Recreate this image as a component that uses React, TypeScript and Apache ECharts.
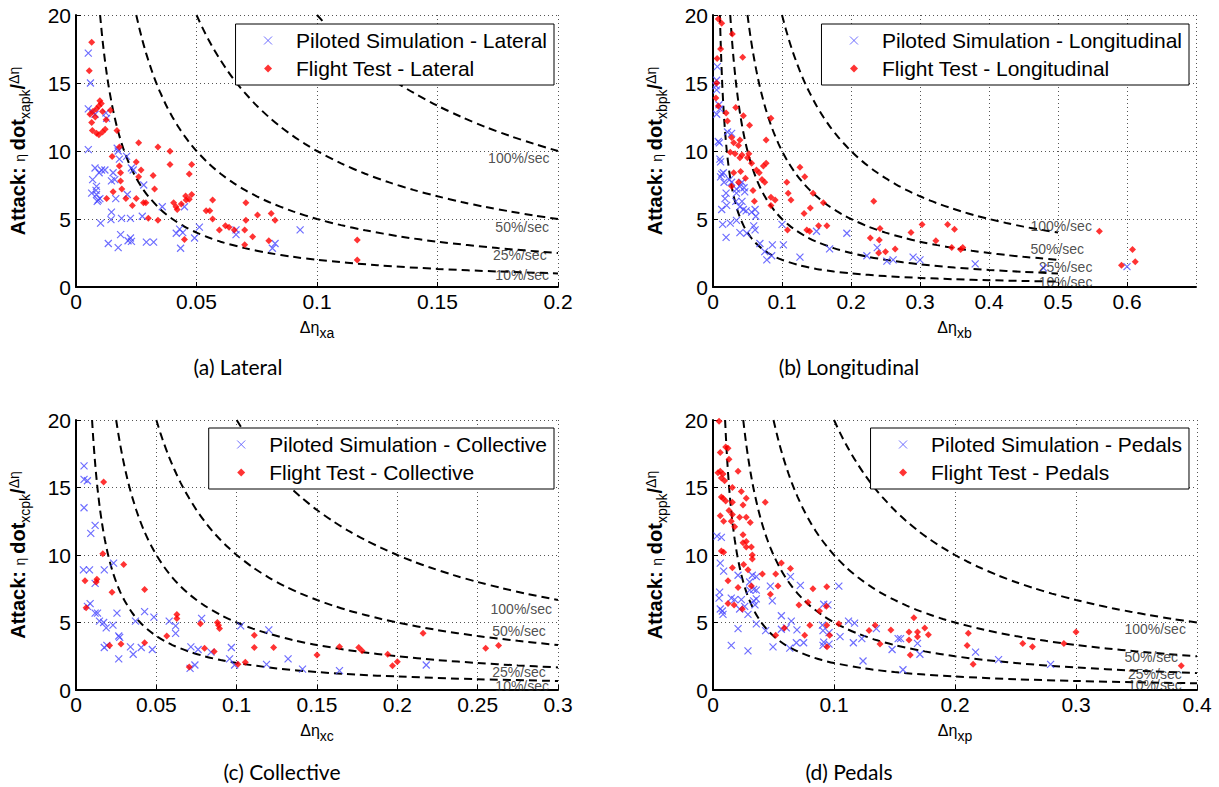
import React, { useEffect, useRef } from 'react';
import * as echarts from 'echarts';

// ---------- reference curves ----------
const curve100: number[][] = [[0.1,20],[0.105,19.05],[0.11,18.18],[0.115,17.39],[0.12,16.67],[0.125,16],[0.13,15.38],[0.135,14.81],[0.14,14.29],[0.15,13.33],[0.16,12.5],[0.17,11.76],[0.18,11.11],[0.19,10.53],[0.2,10],[0.21,9.52],[0.22,9.09],[0.235,8.51],[0.25,8],[0.265,7.55],[0.28,7.14],[0.3,6.67],[0.315,6.35],[0.33,6.06],[0.345,5.8],[0.36,5.56],[0.38,5.26],[0.4,5],[0.425,4.71],[0.45,4.44],[0.475,4.21],[0.5,4]];
const curve50: number[][] = [[0.05,20],[0.0525,19.05],[0.055,18.18],[0.0575,17.39],[0.06,16.67],[0.0625,16],[0.065,15.38],[0.0675,14.81],[0.07,14.29],[0.075,13.33],[0.08,12.5],[0.085,11.76],[0.09,11.11],[0.095,10.53],[0.1,10],[0.11,9.09],[0.12,8.33],[0.13,7.69],[0.14,7.14],[0.15,6.67],[0.16,6.25],[0.17,5.88],[0.18,5.56],[0.19,5.26],[0.2,5],[0.225,4.44],[0.25,4],[0.275,3.64],[0.3,3.33],[0.325,3.08],[0.35,2.86],[0.375,2.67],[0.4,2.5],[0.425,2.35],[0.45,2.22],[0.475,2.11],[0.5,2]];
const curve25: number[][] = [[0.025,20],[0.02625,19.05],[0.0275,18.18],[0.02875,17.39],[0.03,16.67],[0.03125,16],[0.0325,15.38],[0.03375,14.81],[0.035,14.29],[0.0375,13.33],[0.04,12.5],[0.0425,11.76],[0.045,11.11],[0.0475,10.53],[0.05,10],[0.055,9.09],[0.06,8.33],[0.065,7.69],[0.07,7.14],[0.075,6.67],[0.08,6.25],[0.09,5.56],[0.1,5],[0.11,4.55],[0.12,4.17],[0.135,3.7],[0.15,3.33],[0.175,2.86],[0.2,2.5],[0.225,2.22],[0.25,2],[0.275,1.82],[0.3,1.67],[0.35,1.43],[0.4,1.25],[0.45,1.11],[0.5,1]];
const curve10: number[][] = [[0.01,20],[0.0105,19.05],[0.011,18.18],[0.0115,17.39],[0.012,16.67],[0.0125,16],[0.013,15.38],[0.0135,14.81],[0.014,14.29],[0.015,13.33],[0.016,12.5],[0.017,11.76],[0.018,11.11],[0.019,10.53],[0.02,10],[0.0225,8.89],[0.025,8],[0.0275,7.27],[0.03,6.67],[0.035,5.71],[0.04,5],[0.045,4.44],[0.05,4],[0.055,3.64],[0.06,3.33],[0.07,2.86],[0.08,2.5],[0.09,2.22],[0.1,2],[0.125,1.6],[0.15,1.33],[0.175,1.14],[0.2,1],[0.25,0.8],[0.3,0.67],[0.35,0.57],[0.4,0.5],[0.45,0.44],[0.5,0.4]];
const rateLabels = ['100%/sec', '50%/sec', '25%/sec', '10%/sec'];

// ---------- axis ticks ----------
const yTicks = { min: 0, max: 20, interval: 5 };
const xTicksA = { min: 0, max: 0.2, interval: 0.05 };
const xTicksB = { min: 0, max: 0.7, interval: 0.1 };
const xTicksC = { min: 0, max: 0.3, interval: 0.05 };
const xTicksD = { min: 0, max: 0.4, interval: 0.1 };
const curveEnd = [0.2, 0.5, 0.3, 0.4];

// ---------- rate label positions ----------
const labelPosA = [[0.171, 9.5], [0.174, 4.4], [0.173, 2.35], [0.174, 0.85]];
const labelPosB = [[0.46, 4.5], [0.46, 2.77], [0.472, 1.45], [0.472, 0.4]];
const labelPosC = [[0.258, 6.0], [0.259, 4.4], [0.259, 1.35], [0.261, 0.33]];
const labelPosD = [[0.34, 4.55], [0.34, 2.45], [0.343, 1.15], [0.343, 0.4]];

// ---------- scatter data ----------
const latSim: number[][] = [[0.0051,17.2],[0.006,15.0],[0.0051,13.1],[0.0079,12.7],[0.0068,12.9],[0.0124,12.8],[0.0127,12.4],[0.0051,10.1],[0.0171,10.2],[0.0175,10.0],[0.018,9.4],[0.021,9.6],[0.023,8.75],[0.0237,8.6],[0.0079,8.75],[0.0069,7.9],[0.0096,8.4],[0.0106,8.6],[0.012,8.6],[0.0154,8.4],[0.0161,7.9],[0.0147,7.8],[0.0085,7.4],[0.0083,7.1],[0.0065,6.9],[0.0085,6.8],[0.0092,6.4],[0.0088,6.3],[0.0099,6.5],[0.0165,6.5],[0.0213,6.8],[0.0281,7.5],[0.0358,5.9],[0.0102,4.7],[0.0147,5.5],[0.0145,4.95],[0.0189,5.05],[0.0226,5.05],[0.0275,5.2],[0.0134,3.2],[0.0175,2.9],[0.0185,3.85],[0.0226,3.6],[0.0216,3.4],[0.023,3.35],[0.0292,3.3],[0.0322,3.3],[0.0416,3.95],[0.043,4.25],[0.0443,4.0],[0.0434,2.85],[0.045,5.9],[0.0492,3.6],[0.0512,4.4],[0.0664,4.2],[0.0664,3.85],[0.0815,2.85],[0.0826,3.2],[0.093,4.2]];
const latFlight: number[][] = [[0.0065,18.0],[0.0055,15.9],[0.0058,12.7],[0.007,12.9],[0.0085,13.1],[0.0095,13.3],[0.0105,13.5],[0.0099,13.7],[0.008,12.5],[0.0065,12.1],[0.0068,11.5],[0.0085,11.3],[0.0095,11.2],[0.011,11.4],[0.0121,11.6],[0.0143,13.0],[0.011,12.9],[0.0125,12.3],[0.017,11.5],[0.018,10.3],[0.015,9.6],[0.018,8.9],[0.0185,8.4],[0.0185,7.8],[0.0154,7.0],[0.019,7.2],[0.0207,6.5],[0.0127,6.5],[0.0234,6.0],[0.025,6.5],[0.028,6.2],[0.029,6.2],[0.03,5.05],[0.0326,7.2],[0.032,8.2],[0.026,10.6],[0.034,10.3],[0.039,9.98],[0.039,9.0],[0.048,9.0],[0.047,8.3],[0.027,8.6],[0.025,9.2],[0.026,8.1],[0.0405,6.2],[0.0415,5.9],[0.042,5.7],[0.0437,6.1],[0.0455,6.7],[0.0457,6.4],[0.047,6.45],[0.048,6.8],[0.045,3.5],[0.034,4.9],[0.0567,6.4],[0.054,5.6],[0.0555,5.6],[0.0567,5.0],[0.0595,4.2],[0.062,4.5],[0.0635,4.4],[0.0657,4.2],[0.0705,6.2],[0.0705,4.9],[0.07,4.2],[0.0733,3.7],[0.07,3.1],[0.0753,5.3],[0.081,5.4],[0.0826,4.9],[0.08,3.4],[0.1167,3.45],[0.1167,1.98]];
const lonSim: number[][] = [[0.0063,16.2],[0.0053,15.2],[0.0043,14.8],[0.0053,14.5],[0.0087,13.4],[0.01,13.1],[0.0053,12.7],[0.0077,10.7],[0.0092,10.6],[0.01,9.4],[0.011,9.2],[0.0126,8.3],[0.015,8.4],[0.011,8.1],[0.016,7.7],[0.024,7.9],[0.027,7.7],[0.021,11.4],[0.027,11.3],[0.019,6.9],[0.0174,6.5],[0.034,7.2],[0.034,6.9],[0.042,7.7],[0.039,7.4],[0.045,7.3],[0.046,7.0],[0.042,6.3],[0.0126,5.7],[0.0198,6.0],[0.033,6.3],[0.039,5.9],[0.044,5.7],[0.048,5.6],[0.056,5.5],[0.061,5.7],[0.062,5.2],[0.014,4.6],[0.025,4.7],[0.034,4.9],[0.039,4.0],[0.049,3.95],[0.059,4.5],[0.061,4.2],[0.019,3.65],[0.068,3.2],[0.075,2.6],[0.078,2.0],[0.085,2.3],[0.086,3.1],[0.1,4.6],[0.102,3.1],[0.126,2.2],[0.15,4.1],[0.169,2.8],[0.194,3.95],[0.223,2.3],[0.238,2.9],[0.252,1.9],[0.261,2.0],[0.29,2.2],[0.3,2.0],[0.38,1.7],[0.479,1.4],[0.6,1.5]];
const lonFlight: number[][] = [[0.0077,19.7],[0.0126,19.4],[0.011,17.5],[0.006,16.8],[0.028,18.6],[0.043,16.9],[0.0053,15.0],[0.0043,13.9],[0.0077,13.3],[0.019,12.8],[0.033,13.2],[0.021,12.2],[0.044,12.6],[0.053,11.9],[0.084,12.4],[0.027,11.0],[0.03,10.6],[0.039,10.8],[0.037,10.4],[0.025,9.9],[0.032,9.8],[0.042,9.7],[0.052,9.8],[0.05,9.5],[0.039,9.5],[0.056,9.1],[0.063,8.6],[0.067,8.4],[0.073,8.9],[0.077,9.1],[0.071,7.9],[0.075,7.7],[0.058,7.1],[0.06,6.3],[0.084,6.6],[0.09,6.4],[0.084,6.0],[0.077,10.8],[0.027,7.4],[0.037,7.7],[0.047,8.0],[0.03,8.4],[0.04,8.5],[0.107,7.7],[0.109,6.9],[0.113,6.4],[0.108,4.2],[0.126,8.8],[0.133,8.1],[0.132,5.4],[0.141,5.8],[0.136,4.2],[0.14,4.1],[0.145,6.9],[0.153,4.5],[0.165,4.5],[0.16,6.2],[0.233,6.3],[0.228,3.6],[0.241,3.45],[0.24,2.5],[0.25,2.6],[0.264,2.8],[0.242,4.3],[0.287,4.0],[0.303,4.6],[0.323,3.4],[0.34,4.6],[0.35,4.25],[0.346,2.9],[0.359,2.75],[0.362,2.9],[0.56,4.1],[0.608,2.75],[0.592,1.6],[0.612,1.85]];
const colSim: number[][] = [[0.005,16.6],[0.005,15.6],[0.0071,15.5],[0.005,13.5],[0.0119,12.2],[0.0092,11.6],[0.0046,8.9],[0.0084,8.9],[0.0119,7.9],[0.0176,8.9],[0.0234,9.4],[0.0088,6.4],[0.0071,6.2],[0.0119,5.7],[0.0134,5.7],[0.0146,5.1],[0.0172,5.0],[0.0188,4.6],[0.023,4.8],[0.0255,5.7],[0.0266,4.0],[0.0272,3.9],[0.0176,3.15],[0.0192,3.3],[0.0266,2.3],[0.0339,3.2],[0.0356,2.65],[0.037,5.1],[0.0427,5.8],[0.0406,3.15],[0.0475,3.0],[0.0485,5.4],[0.058,5.1],[0.062,4.75],[0.062,4.2],[0.0715,3.2],[0.071,1.6],[0.074,1.85],[0.0782,5.3],[0.076,3.0],[0.084,2.8],[0.0967,3.15],[0.0956,2.3],[0.0987,1.85],[0.1025,4.75],[0.1186,1.9],[0.12,4.45],[0.132,2.3],[0.141,1.55],[0.164,1.43],[0.218,1.85]];
const colFlight: number[][] = [[0.0172,15.4],[0.0167,10.1],[0.0056,8.1],[0.013,8.2],[0.0126,8.0],[0.0297,9.3],[0.0224,7.25],[0.0427,7.45],[0.0063,6.1],[0.0209,3.3],[0.028,3.4],[0.0427,3.5],[0.0565,4.0],[0.0628,5.6],[0.0628,5.3],[0.0774,4.9],[0.08,3.1],[0.086,2.85],[0.088,5.0],[0.0887,4.8],[0.0893,4.55],[0.0705,1.7],[0.1008,1.9],[0.1054,2.05],[0.111,4.05],[0.111,3.15],[0.123,3.15],[0.15,2.6],[0.164,3.2],[0.176,3.15],[0.178,2.9],[0.194,2.65],[0.197,1.8],[0.2,2.1],[0.216,4.2],[0.255,3.1],[0.263,3.3]];
const pedSim: number[][] = [[0.0033,11.4],[0.0069,11.3],[0.006,9.4],[0.0088,8.8],[0.0055,7.25],[0.005,6.8],[0.006,6.0],[0.0083,5.6],[0.0077,5.85],[0.0151,6.8],[0.0179,6.7],[0.022,6.0],[0.0234,6.7],[0.0262,6.2],[0.0289,5.6],[0.0207,8.5],[0.0303,8.0],[0.0325,8.5],[0.0358,8.4],[0.0303,7.4],[0.0336,7.45],[0.0358,7.4],[0.0336,6.6],[0.0358,6.75],[0.0347,6.3],[0.0358,4.9],[0.0207,4.55],[0.0151,3.3],[0.0289,2.9],[0.0435,4.4],[0.0496,3.2],[0.0474,7.7],[0.049,6.6],[0.0565,5.5],[0.0565,4.5],[0.0606,4.6],[0.0647,5.1],[0.0634,3.1],[0.0694,4.45],[0.0689,3.5],[0.064,8.4],[0.0722,7.75],[0.0749,3.5],[0.0904,4.8],[0.0909,4.4],[0.0915,6.35],[0.095,6.3],[0.0959,4.25],[0.0915,3.55],[0.0909,3.3],[0.0959,3.4],[0.104,7.7],[0.105,3.95],[0.112,5.1],[0.116,3.5],[0.117,4.95],[0.123,3.8],[0.124,2.15],[0.135,4.55],[0.148,3.0],[0.153,3.8],[0.155,3.8],[0.169,3.45],[0.171,2.65],[0.157,1.5],[0.217,2.8],[0.236,2.25],[0.279,1.9]];
const pedFlight: number[][] = [[0.005,19.9],[0.006,17.6],[0.0105,18.0],[0.0124,17.9],[0.0132,17.1],[0.0041,16.1],[0.006,16.2],[0.0083,16.0],[0.0069,15.7],[0.0096,15.5],[0.0207,16.2],[0.016,15.0],[0.0069,14.3],[0.0083,14.2],[0.0105,14.0],[0.016,13.9],[0.0132,13.3],[0.016,13.0],[0.0234,14.7],[0.0275,14.2],[0.0248,13.7],[0.0275,12.8],[0.022,12.8],[0.006,12.9],[0.0088,12.5],[0.0151,12.5],[0.0179,12.1],[0.0308,12.4],[0.0432,13.9],[0.0248,11.5],[0.0248,10.9],[0.0275,10.6],[0.0317,10.6],[0.0275,11.0],[0.0069,10.3],[0.0088,10.2],[0.0325,10.0],[0.0253,9.3],[0.0325,9.7],[0.016,9.05],[0.0289,8.9],[0.0408,8.6],[0.0565,9.4],[0.064,9.0],[0.0518,8.6],[0.0124,8.1],[0.0207,7.6],[0.0317,7.7],[0.0537,7.7],[0.0826,7.5],[0.094,7.65],[0.0474,7.1],[0.0124,6.4],[0.0174,6.3],[0.0242,6.0],[0.071,6.3],[0.0785,6.5],[0.088,5.85],[0.0937,6.2],[0.08,4.8],[0.0758,4.05],[0.059,4.6],[0.0518,4.05],[0.0942,3.2],[0.0964,4.05],[0.094,4.8],[0.104,4.9],[0.129,4.4],[0.138,3.4],[0.134,4.8],[0.147,4.45],[0.166,5.35],[0.162,4.3],[0.162,3.7],[0.163,2.6],[0.169,4.3],[0.169,3.95],[0.175,4.6],[0.178,4.1],[0.211,4.2],[0.21,3.3],[0.215,1.9],[0.256,3.45],[0.264,3.2],[0.29,3.45],[0.3,4.3],[0.387,1.8]];

// ---------- per-panel layout ----------
const FONT = '"Liberation Sans", Arial, Helvetica, sans-serif';
const panels = [
  { key: 'Lateral', sub: 'xa', ysub: 'xapk', grid: { left: 76, top: 15, width: 482, height: 272 }, x: xTicksA, sim: latSim, flight: latFlight, labels: labelPosA, legend: { right: 665, top: 24 }, caption: { text: '(a) Lateral', x: 238, y: 366 } },
  { key: 'Longitudinal', sub: 'xb', ysub: 'xbpk', grid: { left: 713, top: 15, width: 483, height: 272 }, x: xTicksB, sim: lonSim, flight: lonFlight, labels: labelPosB, legend: { right: 30, top: 24 }, caption: { text: '(b) Longitudinal', x: 849, y: 366 } },
  { key: 'Collective', sub: 'xc', ysub: 'xcpk', grid: { left: 76, top: 420, width: 482, height: 270 }, x: xTicksC, sim: colSim, flight: colFlight, labels: labelPosC, legend: { right: 665, top: 428 }, caption: { text: '(c) Collective', x: 282, y: 771 } },
  { key: 'Pedals', sub: 'xp', ysub: 'xppk', grid: { left: 713, top: 420, width: 484, height: 270 }, x: xTicksD, sim: pedSim, flight: pedFlight, labels: labelPosD, legend: { right: 30, top: 428 }, caption: { text: '(d) Pedals', x: 849, y: 771 } },
];

const X_SYMBOL = 'path://M0,0L10,10M0,10L10,0';
const BLUE = '#4a4aff';
const RED = '#ff0000';

function fmt(v: number) {
  return String(parseFloat(v.toFixed(3)));
}

export default function App() {
  const ref = useRef<HTMLDivElement>(null);
  useEffect(() => {
    if (!ref.current) return;
    const chart = echarts.init(ref.current, null, { renderer: 'svg' });
    const curves = [curve100, curve50, curve25, curve10];
    const series: any[] = [];
    panels.forEach((p, i) => {
      curves.forEach((c) => {
        series.push({
          type: 'line',
          xAxisIndex: i,
          yAxisIndex: i,
          data: c.filter((d) => d[0] <= curveEnd[i] + 1e-9),
          showSymbol: false,
          symbol: 'none',
          smooth: 0.3,
          silent: true,
          lineStyle: { color: '#000', width: 2, type: [8, 5] },
          z: 3,
        });
      });
      series.push({
        type: 'scatter',
        name: 'Piloted Simulation - ' + p.key,
        xAxisIndex: i,
        yAxisIndex: i,
        data: p.sim,
        symbol: X_SYMBOL,
        symbolSize: 7,
        itemStyle: { color: BLUE, borderColor: BLUE, borderWidth: 1.2 },
        z: 4,
      });
      series.push({
        type: 'scatter',
        name: 'Flight Test - ' + p.key,
        xAxisIndex: i,
        yAxisIndex: i,
        data: p.flight,
        symbol: 'diamond',
        symbolSize: 7,
        itemStyle: { color: RED },
        z: 5,
      });
      series.push({
        type: 'scatter',
        xAxisIndex: i,
        yAxisIndex: i,
        data: p.labels.map((d, k) => [d[0], d[1], rateLabels[k]]),
        symbolSize: 0,
        silent: true,
        clip: false,
        label: {
          show: true,
          position: 'right',
          distance: 0,
          formatter: (q: any) => q.data[2],
          fontFamily: FONT,
          fontSize: 14,
          color: '#222',
        },
        z: 6,
      });
    });

    const option: any = {
      animation: false,
      backgroundColor: '#fff',
      grid: panels.map((p) => ({ ...p.grid, containLabel: false })),
      xAxis: panels.map((p, i) => ({
        type: 'value',
        gridIndex: i,
        min: p.x.min,
        max: p.x.max,
        interval: p.x.interval,
        name: '{a|Δη}{s|' + p.sub + '}',
        nameLocation: 'middle',
        nameGap: 27,
        nameTextStyle: {
          fontFamily: FONT,
          color: '#000',
          rich: {
            a: { fontSize: 16, fontFamily: FONT, color: '#000' },
            s: { fontSize: 14, fontFamily: FONT, color: '#000', padding: [12, 0, 0, 0] },
          },
        },
        axisLine: { show: true, onZero: false, lineStyle: { color: '#000', width: 2 } },
        axisTick: { show: true, inside: true, length: 5, lineStyle: { color: '#000', width: 1 } },
        axisLabel: {
          show: true,
          color: '#000',
          fontFamily: FONT,
          fontSize: 21,
          margin: 4,
          showMaxLabel: i !== 1,
          formatter: (v: number) => fmt(v),
        },
        splitLine: { show: true, lineStyle: { color: '#555', width: 1, type: [1, 3] } },
      })),
      yAxis: panels.map((p, i) => ({
        type: 'value',
        gridIndex: i,
        min: yTicks.min,
        max: yTicks.max,
        interval: yTicks.interval,
        name: '{b|Attack: }{g|η }{b|dot}{s|' + p.ysub + '}{b|/}{u|Δη}',
        nameLocation: 'middle',
        nameRotate: 90,
        nameGap: 44,
        nameTextStyle: {
          fontFamily: FONT,
          color: '#000',
          rich: {
            b: { fontSize: 20, fontWeight: 'bold', fontFamily: FONT, color: '#000' },
            g: { fontSize: 14, fontFamily: FONT, color: '#000', padding: [4, 0, 0, 0] },
            s: { fontSize: 14, fontFamily: FONT, color: '#000', padding: [14, 0, 0, 0] },
            u: { fontSize: 14, fontFamily: FONT, color: '#000', padding: [0, 0, 8, 0] },
          },
        },
        axisLine: { show: true, onZero: false, lineStyle: { color: '#000', width: 2 } },
        axisTick: { show: true, inside: true, length: 5, lineStyle: { color: '#000', width: 1 } },
        axisLabel: { show: true, color: '#000', fontFamily: FONT, fontSize: 21, margin: 5 },
        splitLine: { show: true, lineStyle: { color: '#555', width: 1, type: [1, 3] } },
      })),
      legend: panels.map((p) => ({
        orient: 'vertical',
        right: p.legend.right,
        top: p.legend.top,
        data: ['Piloted Simulation - ' + p.key, 'Flight Test - ' + p.key],
        backgroundColor: '#fff',
        borderColor: '#000',
        borderWidth: 1,
        borderRadius: 0,
        padding: [6, 7, 6, 28],
        itemWidth: 8,
        itemHeight: 8,
        itemGap: 7,
        selectedMode: false,
        itemStyle: { borderWidth: 1 },
        textStyle: { fontFamily: FONT, fontSize: 21, color: '#000', padding: [0, 0, 0, 19], lineHeight: 21 },
        z: 10,
      })),
      graphic: panels.map((p) => ({
        type: 'text',
        x: p.caption.x,
        y: p.caption.y,
        silent: true,
        style: {
          text: p.caption.text,
          font: '21px Lato, "Open Sans", sans-serif',
          fill: '#000',
          textAlign: 'center',
          textVerticalAlign: 'middle',
          align: 'center',
          verticalAlign: 'middle',
        },
      })),
      series,
    };
    chart.setOption(option);
    return () => chart.dispose();
  }, []);
  return (
    <div
      ref={ref}
      style={{ position: 'absolute', left: 0, top: 0, width: 1219, height: 787, background: '#fff' }}
    />
  );
}
